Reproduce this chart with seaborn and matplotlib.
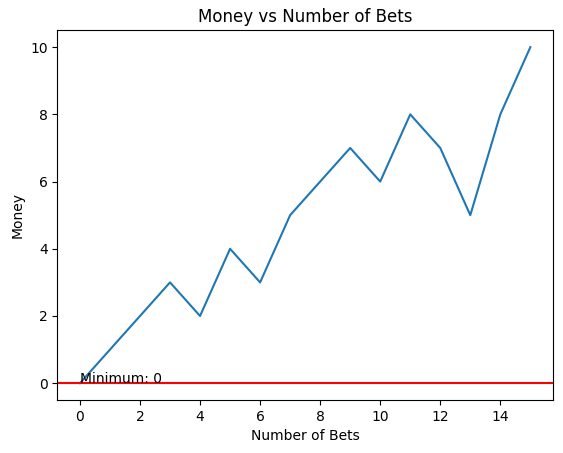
import matplotlib
matplotlib.use("Agg")
import matplotlib.pyplot as plt
import pandas as pd
import seaborn as sns

# Data
bets = list(range(16))
money = [0, 1, 2, 3, 2, 4, 3, 5, 6, 7, 6, 8, 7, 5, 8, 10]
minimum = 0

df = pd.DataFrame({"Number of Bets": bets, "Money": money})

fig = plt.figure(figsize=(5.63, 4.53), dpi=100)
ax = fig.add_subplot(111)
sns.lineplot(ax=ax, x="Number of Bets", y="Money", data=df)
ax.axhline(minimum, color="red")
ax.text(0, minimum, "Minimum: " + str(minimum))
ax.set_title("Money vs Number of Bets")
ax.set_xlabel("Number of Bets")
ax.set_ylabel("Money")

fig.subplots_adjust(left=0.102, right=0.982, top=0.933, bottom=0.117)
fig.savefig("out.png")
